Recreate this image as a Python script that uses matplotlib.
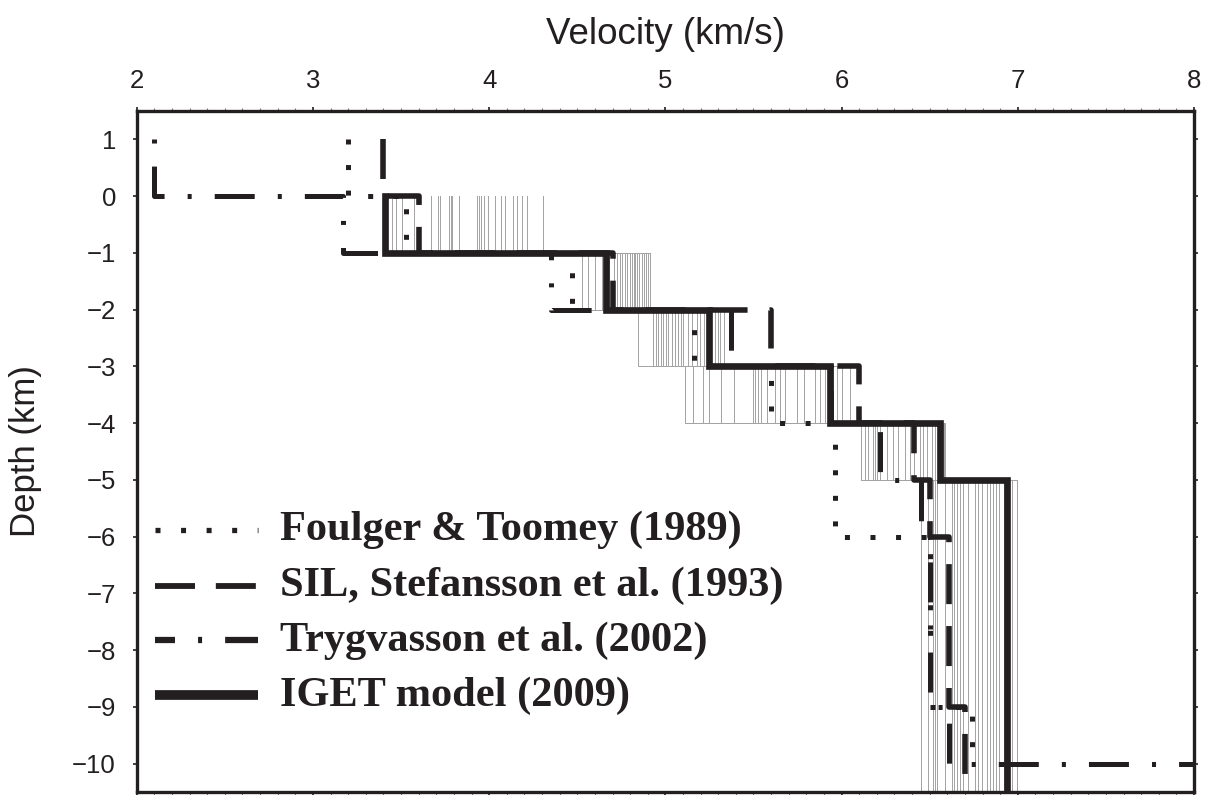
import numpy as np
import matplotlib.pyplot as plt
from matplotlib.ticker import MultipleLocator

plt.rcParams['lines.scale_dashes'] = False
plt.rcParams['font.family'] = ['Liberation Sans', 'DejaVu Sans']

INK = '#231f20'

# ensemble of 1-D models (thin grey staircases), one list per layer
ens_depths = [0, -1, -2, -3, -4, -5, -10.5]
ens_layer1 = [3.447, 3.472, 3.504, 3.576, 3.668, 3.708, 3.721, 3.772, 3.782, 3.791, 3.831, 3.930,
              3.941, 3.954, 3.973, 3.995, 4.034, 4.066, 4.089, 4.134, 4.157, 4.185, 4.213, 4.308]
ens_layer2 = [4.525, 4.563, 4.600, 4.640, 4.660, 4.680, 4.710, 4.725, 4.740, 4.755, 4.770, 4.785,
              4.800, 4.810, 4.820, 4.830, 4.840, 4.850, 4.865, 4.880, 4.890, 4.900, 4.910, 4.915]
ens_layer3 = [4.847, 4.932, 4.947, 4.960, 4.974, 4.989, 5.002, 5.017, 5.036, 5.055, 5.074, 5.090,
              5.102, 5.131, 5.150, 5.178, 5.197, 5.220, 5.240, 5.260, 5.282, 5.300, 5.310, 5.330]
ens_layer4 = [5.112, 5.156, 5.216, 5.250, 5.315, 5.390, 5.500, 5.510, 5.525, 5.540, 5.579, 5.622,
              5.651, 5.679, 5.746, 5.787, 5.850, 5.878, 5.906, 5.930, 5.950, 5.973, 6.001, 6.048]
ens_layer5 = [6.109, 6.133, 6.152, 6.177, 6.190, 6.203, 6.220, 6.256, 6.290, 6.322, 6.360, 6.389,
              6.410, 6.446, 6.464, 6.487, 6.512, 6.530, 6.545, 6.560, 6.570, 6.575, 6.580, 6.585]
ens_layer6 = [6.449, 6.489, 6.518, 6.531, 6.544, 6.587, 6.625, 6.638, 6.654, 6.673, 6.688, 6.720,
              6.758, 6.777, 6.796, 6.824, 6.843, 6.862, 6.877, 6.894, 6.920, 6.950, 6.970, 6.994]
ens_layers = [ens_layer1, ens_layer2, ens_layer3, ens_layer4, ens_layer5, ens_layer6]

# published models: layer boundaries (km) and layer velocities (km/s)
foulger_depths = [1, 0, -1, -2, -3, -4, -6, -9, -10]
foulger_vel = [3.20, 3.53, 4.47, 5.165, 5.60, 5.96, 6.50, 6.74]

sil_depths = [1, 0, -1, -2, -3, -4, -5, -6, -9, -10.5]
sil_vel = [3.40, 3.60, 4.70, 5.60, 6.10, 6.41, 6.50, 6.61, 6.70]

tryg_depths = [1, 0, -1, -2, -3, -4, -5, -6, -9, -10, -10]
tryg_vel = [2.10, 3.17, 4.35, 5.37, 5.94, 6.22, 6.45, 6.50, 6.61, 8.0]

iget_depths = [0, -1, -2, -3, -4, -5, -10.5]
iget_vel = [3.41, 4.665, 5.245, 5.935, 6.56, 6.94]

labels = ['Foulger & Toomey (1989)', 'SIL, Stefansson et al. (1993)',
          'Trygvasson et al. (2002)', 'IGET model (2009)']

# dash patterns in points
dot_style = (0, (3.6, 14.8))
dash_style = (0, (28.8, 15.8))
dashdot_style = (45.4, (28.8, 16.6, 2.9, 16.6))


def staircase(depths, vel):
    x, y = [], []
    for i, v in enumerate(vel):
        x += [v, v]
        y += [depths[i], depths[i + 1]]
    return x, y


fig = plt.figure(figsize=(12.08, 7.95), dpi=100)
ax = fig.add_axes([0.1132, 0.0038, 0.8752, 0.8566])

# grey ensemble
for i in range(len(ens_layer1)):
    vx, vy = staircase(ens_depths, [layer[i] for layer in ens_layers])
    ax.plot(vx, vy, color='#a3a3a3', lw=0.7, zorder=1)

x, y = staircase(foulger_depths, foulger_vel)
ax.plot(x, y, color=INK, lw=3.6, linestyle=dot_style, dash_capstyle='butt', zorder=3)
x, y = staircase(sil_depths, sil_vel)
ax.plot(x, y, color=INK, lw=4.0, linestyle=dash_style, dash_capstyle='butt', zorder=3)
x, y = staircase(tryg_depths, tryg_vel)
ax.plot(x, y, color=INK, lw=3.6, linestyle=dashdot_style, dash_capstyle='butt', zorder=3)
x, y = staircase(iget_depths, iget_vel)
ax.plot(x, y, color=INK, lw=4.8, solid_joinstyle='miter', zorder=4)

# legend drawn inside the axes
leg_styles = [(dot_style, 3.8), ((0, (28.8, 15.0)), 4.2),
              ((14.4, (28.8, 16.6, 2.9, 16.6)), 4.5), ('-', 7.0)]
leg_y = [0.385, 0.303, 0.2226, 0.1418]
for (ls, lw), ly, lab in zip(leg_styles, leg_y, labels):
    ax.plot([0.0173, 0.1148], [ly, ly], transform=ax.transAxes, color=INK, lw=lw,
            linestyle=ls, dash_capstyle='butt', solid_capstyle='butt', zorder=5)
    ax.text(0.1356, ly, lab, transform=ax.transAxes, fontsize=30.5, fontweight='bold',
            family=['Liberation Serif', 'DejaVu Serif'], color=INK, va='center', ha='left')

ax.set_xlim(2, 8)
ax.set_ylim(-10.5, 1.5)
ax.xaxis.set_major_locator(MultipleLocator(1))
ax.xaxis.set_minor_locator(MultipleLocator(0.1))
ax.yaxis.set_major_locator(MultipleLocator(1))
ax.xaxis.set_label_position('top')
ax.tick_params(axis='x', which='both', top=True, bottom=True, labeltop=True,
               labelbottom=False, direction='out')
ax.tick_params(axis='y', left=True, right=True, labelleft=True, labelright=False,
               direction='out')
ax.tick_params(which='major', length=3, width=1.2, labelsize=18.5, colors=INK)
ax.tick_params(axis='x', which='major', pad=10)
ax.tick_params(axis='y', which='major', pad=12)
ax.tick_params(which='minor', length=2.5, width=0.8, color='#777777')
for s in ax.spines.values():
    s.set_linewidth(2.4)
    s.set_color(INK)

ax.set_xlabel('Velocity (km/s)', fontsize=26.5, labelpad=18, color=INK)
ax.set_ylabel('Depth (km)', fontsize=25, labelpad=22, color=INK)

fig.savefig('out.png', dpi=100)
